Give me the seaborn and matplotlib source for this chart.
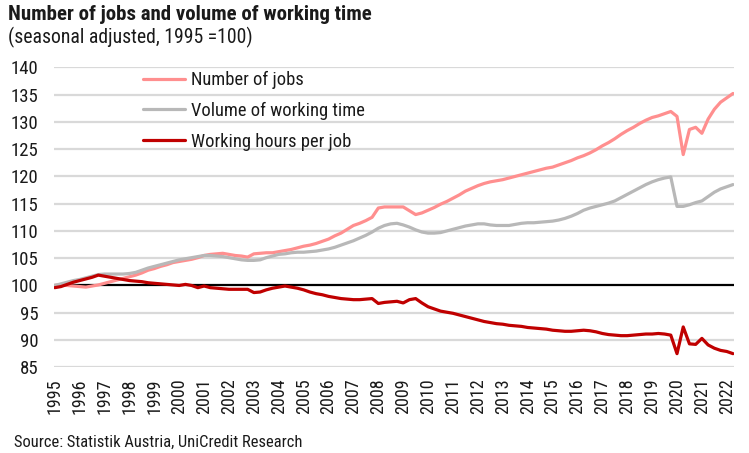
import matplotlib
matplotlib.use("Agg")
import matplotlib.pyplot as plt
import seaborn as sns
import pandas as pd
import numpy as np
from matplotlib import font_manager

# ---- data (quarterly, 1995Q1 .. 2022Q2, index 1995 = 100) ----
years = list(range(1995, 2023))
series_names = ["Number of jobs", "Volume of working time", "Working hours per job"]

jobs = [
    100.0, 100.1, 100.0, 99.9,
    99.8, 99.7, 99.9, 100.1,
    100.4, 100.7, 101.0, 101.3,
    101.6, 101.9, 102.3, 102.8,
    103.1, 103.5, 103.8, 104.2,
    104.4, 104.6, 104.8, 105.1,
    105.5, 105.7, 105.8, 105.9,
    105.7, 105.5, 105.4, 105.2,
    105.8, 105.9, 106.0, 106.0,
    106.2, 106.4, 106.6, 106.9,
    107.2, 107.4, 107.7, 108.1,
    108.5, 109.1, 109.6, 110.3,
    111.0, 111.4, 111.9, 112.5,
    114.2, 114.4, 114.4, 114.4,
    114.4, 113.7, 113.0, 113.3,
    113.8, 114.3, 114.9, 115.4,
    116.0, 116.6, 117.3, 117.8,
    118.3, 118.7, 119.0, 119.2,
    119.4, 119.7, 120.0, 120.3,
    120.6, 120.9, 121.2, 121.5,
    121.7, 122.1, 122.5, 122.9,
    123.4, 123.8, 124.3, 124.9,
    125.6, 126.2, 126.9, 127.7,
    128.4, 129.0, 129.7, 130.3,
    130.8, 131.1, 131.5, 131.9,
    131.0, 124.0, 128.6, 129.0,
    127.9, 130.5, 132.3, 133.6,
    134.4, 135.2,
]

volume = [
    100.0, 100.3, 100.6, 100.9,
    101.1, 101.4, 101.7, 102.0,
    102.1, 102.1, 102.1, 102.1,
    102.2, 102.4, 102.8, 103.2,
    103.5, 103.8, 104.1, 104.4,
    104.7, 104.9, 105.1, 105.3,
    105.5, 105.5, 105.4, 105.3,
    105.1, 104.9, 104.7, 104.6,
    104.6, 104.7, 105.1, 105.4,
    105.7, 105.8, 106.0, 106.1,
    106.1, 106.2, 106.3, 106.5,
    106.7, 107.0, 107.4, 107.8,
    108.2, 108.7, 109.2, 109.8,
    110.5, 111.0, 111.3, 111.4,
    111.1, 110.7, 110.2, 109.8,
    109.6, 109.6, 109.7, 110.0,
    110.3, 110.6, 110.9, 111.1,
    111.3, 111.3, 111.1, 111.0,
    111.0, 111.0, 111.2, 111.4,
    111.5, 111.5, 111.6, 111.7,
    111.8, 112.0, 112.3, 112.7,
    113.2, 113.8, 114.2, 114.5,
    114.8, 115.1, 115.5, 116.1,
    116.7, 117.3, 117.9, 118.5,
    119.0, 119.4, 119.7, 119.9,
    114.5, 114.5, 114.8, 115.2,
    115.5, 116.3, 117.1, 117.7,
    118.1, 118.5,
]

hours = [
    99.6, 99.8, 100.2, 100.6,
    100.9, 101.2, 101.5, 101.9,
    101.7, 101.5, 101.3, 101.1,
    100.9, 100.8, 100.7, 100.5,
    100.4, 100.3, 100.2, 100.1,
    100.0, 100.2, 100.0, 99.6,
    99.9, 99.6, 99.5, 99.4,
    99.3, 99.3, 99.3, 99.3,
    98.7, 98.8, 99.2, 99.5,
    99.7, 99.9, 99.7, 99.5,
    99.2, 98.8, 98.5, 98.3,
    98.0, 97.8, 97.6, 97.5,
    97.4, 97.4, 97.5, 97.6,
    96.7, 96.9, 97.0, 97.1,
    96.8, 97.4, 97.6, 96.8,
    96.1, 95.7, 95.3, 95.1,
    94.9, 94.6, 94.3, 94.0,
    93.7, 93.4, 93.2, 93.0,
    92.9, 92.7, 92.6, 92.5,
    92.3, 92.2, 92.1, 92.0,
    91.8, 91.7, 91.6, 91.6,
    91.7, 91.8, 91.7, 91.5,
    91.2, 91.0, 90.9, 90.8,
    90.8, 90.9, 91.0, 91.1,
    91.1, 91.2, 91.1, 90.9,
    87.5, 92.4, 89.3, 89.2,
    90.3, 89.1, 88.5, 88.1,
    87.9, 87.5,
]

y_ticks = [85, 90, 95, 100, 105, 110, 115, 120, 125, 130, 135, 140]
colors = ["#FF8F8F", "#B8B8B8", "#C00000"]

title = "Number of jobs and volume of working time"
subtitle = "(seasonal adjusted, 1995 =100)"
source = "Source: Statistik Austria, UniCredit Research"

# ---- build long table ----
t = [1995 + i / 4 for i in range(len(jobs))]
df = pd.concat([
    pd.DataFrame({"t": t, "value": jobs, "series": series_names[0]}),
    pd.DataFrame({"t": t, "value": volume, "series": series_names[1]}),
    pd.DataFrame({"t": t, "value": hours, "series": series_names[2]}),
])

sns.set_theme(style="white")
avail = {f.name for f in font_manager.fontManager.ttflist}
fam = [f for f in ["Roboto Condensed", "Liberation Sans Narrow"] if f in avail]
plt.rcParams["font.family"] = fam + ["DejaVu Sans"]

fig = plt.figure(figsize=(7.49, 4.53), dpi=100)
ax = fig.add_axes([54 / 749, 1 - 367.3 / 453, 680 / 749, 300 / 453])

for yv in y_ticks:
    if yv == 100:
        continue
    ax.axhline(yv, color="#D9D9D9", lw=1.6, zorder=0)
ax.axhline(100, color="black", lw=1.6, zorder=1)

sns.lineplot(data=df, x="t", y="value", hue="series", hue_order=series_names,
             palette=colors, linewidth=2.3, ax=ax, legend=True, zorder=3)

ax.set_xlim(1994.97, t[-1] + 0.04)
ax.set_ylim(85, 140)
ax.set_yticks(y_ticks)
ax.set_yticklabels([str(v) for v in y_ticks], fontsize=13.5, color="#1a1a1a")
ax.set_xticks(years)
ax.set_xticklabels([str(y) for y in years], rotation=90, fontsize=13, color="#1a1a1a")
ax.tick_params(axis="both", length=0)
ax.tick_params(axis="x", pad=8)
ax.tick_params(axis="y", pad=11)
for s in ax.spines.values():
    s.set_visible(False)
ax.set_xlabel("")
ax.set_ylabel("")
ax.grid(False)

handles, labels = ax.get_legend_handles_labels()
leg = ax.legend(handles, labels, loc="upper left", bbox_to_anchor=(0.131, 0.987),
                frameon=False, fontsize=13.3, handlelength=2.27, handletextpad=0.3,
                labelspacing=0.68, borderpad=0, borderaxespad=0)
for h in leg.legend_handles:
    h.set_linewidth(2.3)
for txt in leg.get_texts():
    txt.set_color("#1a1a1a")

fig.text(8 / 749, 1 - 15 / 453, title, fontsize=15, fontweight="bold", color="#1a1a1a",
         va="center", ha="left")
fig.text(8 / 749, 1 - 37 / 453, subtitle, fontsize=14.2, color="#1a1a1a", va="center", ha="left")
fig.text(14 / 749, 1 - 442 / 453, source, fontsize=11.9, color="#1a1a1a", va="center", ha="left")

fig.savefig("out.png", dpi=100)
